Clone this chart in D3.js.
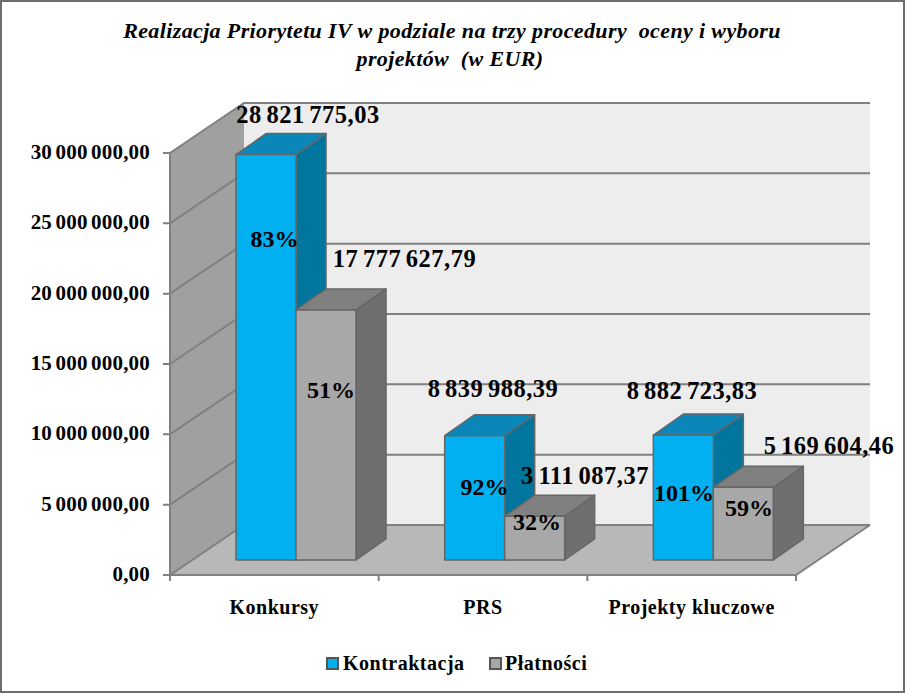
<!DOCTYPE html>
<html><head><meta charset="utf-8">
<script src="https://cdn.jsdelivr.net/npm/d3@7"></script>
<style>html,body{margin:0;padding:0;background:#fff}svg{display:block}text{font-family:"Liberation Serif","Times New Roman",serif;font-weight:bold;fill:#000;white-space:pre}</style>
</head><body><svg id="c" width="905" height="693"></svg>
<script>
const categories = ["Konkursy","PRS","Projekty kluczowe"];
const contracting = [28821775.03,8839988.39,8882723.83];
const payments = [17777627.79,3111087.37,5169604.46];
const contractingPct = ["83%","92%","101%"];
const paymentsPct = ["51%","32%","59%"];
const contractingLabels = ["28 821 775,03","8 839 988,39","8 882 723,83"];
const paymentsLabels = ["17 777 627,79","3 111 087,37","5 169 604,46"];
const yTicks = [0,5e6,1e7,1.5e7,2e7,2.5e7,3e7];
const tickLabels = ["0,00","5 000 000,00","10 000 000,00","15 000 000,00","20 000 000,00","25 000 000,00","30 000 000,00"];
const titleLines = ["Realizacja Priorytetu IV w podziale na trzy procedury  oceny i wyboru","projektów  (w EUR)"];
const seriesNames = ["Kontraktacja","Płatności"];

const svg = d3.select("#c");
const y = d3.scaleLinear().domain([0,3e7]).range([575,153]);
const x = d3.scaleBand().domain(categories).range([170,796]);
const line = "#666666", grid = "#808080";
const poly = (pts,fill,stroke=line,w=1.5)=>svg.append("polygon").attr("points",pts.map(p=>p.join(",")).join(" ")).attr("fill",fill).attr("stroke",stroke).attr("stroke-width",w).attr("stroke-linejoin","round");
// frame
svg.append("rect").attr("x",1).attr("y",1).attr("width",903).attr("height",691).attr("fill","#fff").attr("stroke","#6e6e6e").attr("stroke-width",2);
// walls
const D={x:74,y:-50};
const [xL,xR]=x.range();
poly([[xL+D.x,y(3e7)+D.y],[xR+D.x,y(3e7)+D.y],[xR+D.x,y(0)+D.y],[xL+D.x,y(0)+D.y]],"#ededed","none",0);
poly([[xL,y(0)],[xL,y(3e7)],[xL+D.x,y(3e7)+D.y],[xL+D.x,y(0)+D.y]],"#a0a0a0","none",0);
poly([[xL,y(0)],[xL+D.x,y(0)+D.y],[xR+D.x,y(0)+D.y],[xR,y(0)]],"#b8b8b8","none",0);
svg.append("path").attr("d",`M${xL},${y(0)}V${y(3e7)}`).attr("fill","none").attr("stroke",grid).attr("stroke-width",2);
yTicks.forEach((t,i)=>{
  svg.append("path").attr("d",`M163,${y(t)}H${xL}L${xL+D.x},${y(t)+D.y}H${xR+D.x}`).attr("fill","none").attr("stroke",grid).attr("stroke-width",2);
  svg.append("text").attr("x",150).attr("y",y(t)+6).attr("text-anchor","end").attr("font-size",21).attr("letter-spacing",0.2).attr("word-spacing",-2).text(tickLabels[i]);
});
svg.append("path").attr("d",`M${xL},${y(0)}H${xR}V${y(0)+6}M${x(categories[1])},${y(0)}v6M${x(categories[2])},${y(0)}v6M${xL},${y(0)}v6M${xR},${y(0)}L${xR+D.x},${y(0)+D.y}`).attr("fill","none").attr("stroke",grid).attr("stroke-width",2);
// bars
const base={x:66,y:-15}, bw=60, bd={x:30,y:-21};
function bar(x0,v,front,top,side){
  const yb=y(0)+base.y, yt=y(v)+base.y;
  poly([[x0+bw,yb],[x0+bw+bd.x,yb+bd.y],[x0+bw+bd.x,yt+bd.y],[x0+bw,yt]],side);
  poly([[x0,yt],[x0+bd.x,yt+bd.y],[x0+bw+bd.x,yt+bd.y],[x0+bw,yt]],top);
  poly([[x0,yb],[x0,yt],[x0+bw,yt],[x0+bw,yb]],front);
}
categories.forEach((c,i)=>{
  const x0=x(c)+base.x;
  bar(x0,contracting[i],"#00b0f0","#0a87b8","#00769f");
  bar(x0+bw,payments[i],"#a8a8a8","#808080","#6f6f6f");
});
// labels: offsets from the centre and top of each bar's front face
const valOffC=[[42,-31.6],[18.3,-38.7],[8.7,-36]];
const valOffP=[[78.5,-43],[50.3,-32.2],[85.7,-33.3]];
const pctOffC=[[8.5,92.4],[9.8,59.3],[0.7,65.9]];
const pctOffP=[[5,88],[2.3,13.8],[5.7,28.7]];
const big=(px,py,t)=>svg.append("text").attr("x",px).attr("y",py).attr("text-anchor","middle").attr("font-size",24.5).attr("letter-spacing",0.5).attr("word-spacing",-2).text(t);
const pct=(px,py,t)=>svg.append("text").attr("x",px).attr("y",py).attr("text-anchor","middle").attr("font-size",24).text(t);
categories.forEach((c,i)=>{
  const cC=x(c)+base.x+bw/2, cP=cC+bw;
  const tC=y(contracting[i])+base.y, tP=y(payments[i])+base.y;
  big(cC+valOffC[i][0],tC+valOffC[i][1],contractingLabels[i]);
  big(cP+valOffP[i][0],tP+valOffP[i][1],paymentsLabels[i]);
  pct(cC+pctOffC[i][0],tC+pctOffC[i][1],contractingPct[i]);
  pct(cP+pctOffP[i][0],tP+pctOffP[i][1],paymentsPct[i]);
  svg.append("text").attr("x",x(c)+x.bandwidth()/2).attr("y",614).attr("text-anchor","middle").attr("font-size",20).attr("letter-spacing",0.5).text(c);
});
// title
titleLines.forEach((l,i)=>svg.append("text").attr("x",i?450:452).attr("y",38+i*28).attr("text-anchor","middle").attr("font-size",22).attr("letter-spacing",0.37).attr("font-style","italic").text(l));
// legend
[[327,"#00b0f0",343],[490,"#a8a8a8",505]].forEach((d,i)=>{
  svg.append("rect").attr("x",d[0]).attr("y",658).attr("width",11).attr("height",11).attr("fill",d[1]).attr("stroke","#555").attr("stroke-width",2);
  svg.append("text").attr("x",d[2]).attr("y",670).attr("font-size",20).attr("letter-spacing",0.5).text(seriesNames[i]);
});
</script></body></html>
